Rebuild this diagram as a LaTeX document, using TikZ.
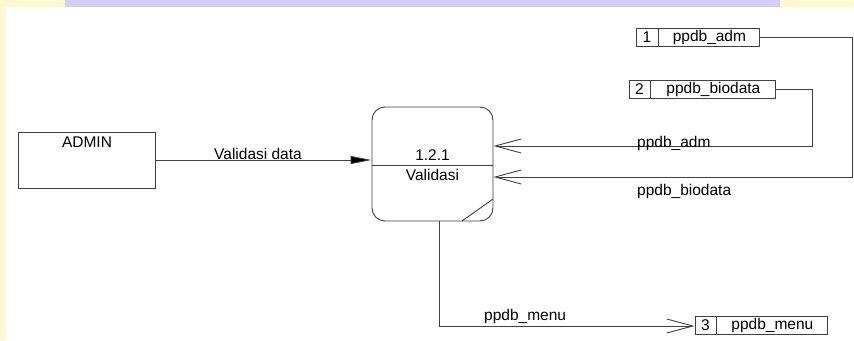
\documentclass[tikz,border=0pt]{standalone}
\usepackage{fontspec}
\setmainfont{Liberation Sans}
\usetikzlibrary{arrows.meta}
\definecolor{ln}{HTML}{404040}
\definecolor{wmy}{HTML}{FFF8D2}
\definecolor{wml}{HTML}{D2CEF6}
\tikzset{
  box/.style={draw=ln, line width=0.9pt, inner sep=0pt, font=\fontsize{15.5}{18}\selectfont},
  cell/.style={box, minimum height=18pt},
  flow/.style={draw=ln, line width=0.9pt},
  openhead/.style={-{Straight Barb[length=26pt,width=14pt,line width=0.9pt]}},
  filledhead/.style={-{Triangle[length=21pt,width=8pt,fill=black]}},
  lbl/.style={font=\fontsize{15.5}{18}\selectfont, inner sep=0pt, text=black}
}
\begin{document}
\begin{tikzpicture}[x=1pt,y=-1pt]
\useasboundingbox (0,0) rectangle (854,340);
% watermark margins
\fill[wmy] (0,0) rectangle (854,340);
\fill[wml] (65,0) rectangle (780,7);
\fill[white] (6,7) rectangle (854,340);

% external entity
\node[box, minimum width=137pt, minimum height=56pt] (admin) at (86.5,160) {};
\node[lbl] (admintxt) at (87,142) {ADMIN};

% process
\node[box, rounded corners=13pt, minimum width=121pt, minimum height=114pt] (proc) at (432.5,164) {};
\draw[flow] (proc.west |- 0,165) coordinate (pdl) -- (proc.east |- 0,165) coordinate (pdr);
\node[lbl] (pid) at (432.5,155) {1.2.1};
\node[lbl] (pname) at (432.5,175) {Validasi};
\draw[flow] (462,221) coordinate (dg1) -- (493,199) coordinate (dg2);

% data stores
\node[cell, minimum width=22pt] (s1n) at (647,37) {1};
\node[cell, minimum width=101pt, anchor=west] (s1) at (s1n.east) {ppdb\_adm};
\node[cell, minimum width=21pt] (s2n) at (639.5,89) {2};
\node[cell, minimum width=125pt, anchor=west] (s2) at (s2n.east) {ppdb\_biodata};
\node[cell, minimum width=21pt] (s3n) at (705.5,325) {3};
\node[cell, minimum width=111pt, anchor=west] (s3) at (s3n.east) {ppdb\_menu};

% flows
\coordinate (in1) at (proc.east |- 0,146);
\coordinate (in2) at (proc.east |- 0,177);
\coordinate (e1) at (852,37);
\coordinate (e2) at (812,89);
\coordinate (ob) at (439,221);
\coordinate (oc) at (439,326);

\draw[flow, filledhead] (admin.east) -- (proc.west |- admin.east);
\draw[flow, openhead] (s1.east) -- (e1) -- (e1 |- in2) -- (in2);
\draw[flow, openhead] (s2.east) -- (e2) -- (e2 |- in1) -- (in1);
\draw[flow, openhead] (ob) -- (oc) -- (s3n.west |- oc);

% labels
\node[lbl] (l1) at (258,154) {Validasi data};
\node[lbl, anchor=west] (l2) at (637,143) {ppdb\_adm};
\node[lbl, anchor=west] (l3) at (637,191) {ppdb\_biodata};
\node[lbl, anchor=west] (l4) at (484,316) {ppdb\_menu};
\end{tikzpicture}
\end{document}
